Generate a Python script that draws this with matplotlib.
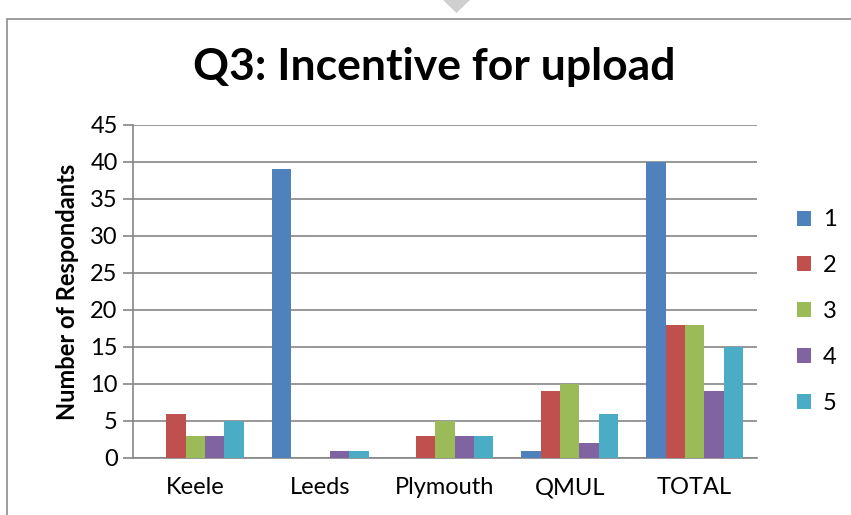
import numpy as np
import matplotlib.pyplot as plt
from matplotlib.patches import Rectangle, Polygon

categories = ['Keele', 'Leeds', 'Plymouth', 'QMUL', 'TOTAL']
series_names = ['1', '2', '3', '4', '5']
s1 = [0, 39, 0, 1, 40]
s2 = [6, 0, 3, 9, 18]
s3 = [3, 0, 5, 10, 18]
s4 = [3, 1, 3, 2, 9]
s5 = [5, 1, 3, 6, 15]
series = [s1, s2, s3, s4, s5]
colors = ['#4F81BD', '#C0504D', '#9BBB59', '#8064A2', '#4BACC6']

plt.rcParams['font.family'] = ['Lato', 'DejaVu Sans']

fig = plt.figure(figsize=(8.51, 5.15), dpi=100)
ax = fig.add_axes([0.1563, 0.1107, 0.7332, 0.6466])

# outer chart frame and the small grey marker at the top
fig.patches.append(Rectangle((7 / 851, -0.1), 2, 1.1 - 19 / 515, transform=fig.transFigure,
                             fill=False, edgecolor='#8c8c8c', linewidth=1.2))
fig.patches.append(Polygon([(443 / 851, 1.0), (470 / 851, 1.0), (456.5 / 851, 1 - 13 / 515)],
                           closed=True, transform=fig.transFigure, facecolor='#cfcfcf',
                           edgecolor='none'))

x = np.arange(len(categories))
width = 0.155
for i, (vals, name) in enumerate(zip(series, series_names)):
    ax.bar(x + (i - 2) * width, vals, width, color=colors[i], label=name, zorder=3)

ax.set_xlim(-0.5, len(categories) - 0.5)
ax.set_ylim(0, 45)
ax.set_yticks(range(0, 46, 5))
ax.set_xticks(x)
ax.set_xticklabels(categories)
ax.tick_params(axis='x', length=0, pad=14, labelsize=17)
ax.tick_params(axis='y', length=7, color='#868686', width=1.2, labelsize=17, pad=4)
ax.grid(axis='y', color='#868686', linewidth=1.2, zorder=0)
for side in ['top', 'right']:
    ax.spines[side].set_visible(False)
ax.spines['left'].set_color('#868686')
ax.spines['left'].set_linewidth(1.2)
ax.spines['bottom'].set_color('#868686')
ax.spines['bottom'].set_linewidth(1.2)

ax.set_ylabel('Number of Respondants', fontsize=17, fontweight='bold', labelpad=8)
fig.text(434 / 851, 1 - 67 / 515, 'Q3: Incentive for upload', fontsize=32,
         fontweight='bold', ha='center', va='center')

leg = ax.legend(loc='center left', bbox_to_anchor=(1.03, 0.44), frameon=False,
                fontsize=17, handlelength=0.6, handleheight=0.6,
                handletextpad=0.5, labelspacing=1.05)

fig.savefig('out.png', dpi=100)
